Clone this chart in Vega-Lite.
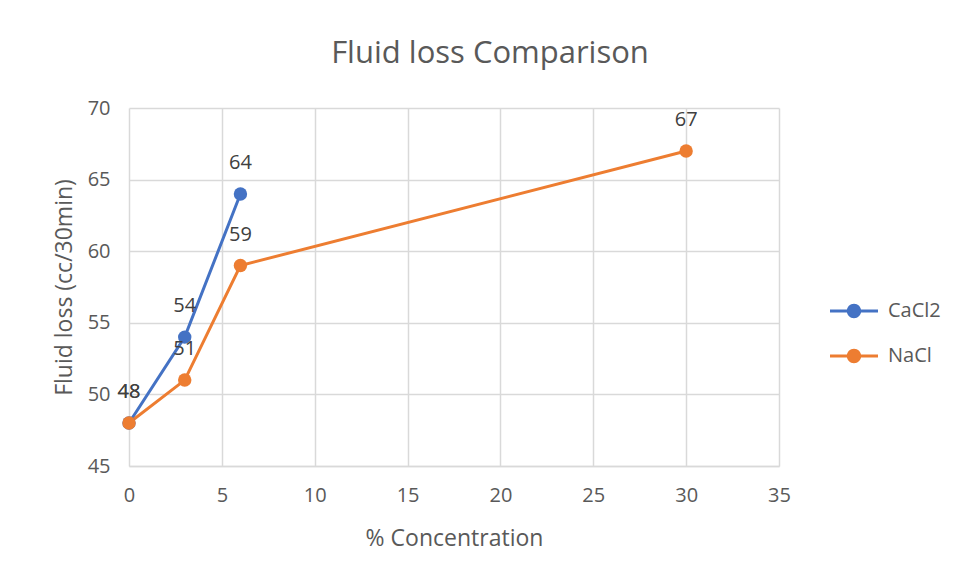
{
  "$schema": "https://vega.github.io/schema/vega-lite/v6.json",
  "autosize": "none",
  "width": 650,
  "height": 358,
  "padding": {"left": 129, "top": 108, "right": 179, "bottom": 117},
  "background": "white",
  "title": {
    "text": "Fluid loss Comparison",
    "fontSize": 31,
    "font": "Open Sans",
    "fontWeight": "normal",
    "color": "#595959",
    "anchor": "middle",
    "frame": "group",
    "dx": 36,
    "baseline": "alphabetic",
    "offset": 4
  },
  "data": {
    "values": [
      {"series": "CaCl2", "conc": 0, "loss": 48},
      {"series": "CaCl2", "conc": 3, "loss": 54},
      {"series": "CaCl2", "conc": 6, "loss": 64},
      {"series": "NaCl", "conc": 0, "loss": 48},
      {"series": "NaCl", "conc": 3, "loss": 51},
      {"series": "NaCl", "conc": 6, "loss": 59},
      {"series": "NaCl", "conc": 30, "loss": 67}
    ]
  },
  "encoding": {
    "x": {
      "field": "conc",
      "type": "quantitative",
      "scale": {"domain": [0, 35], "nice": false, "zero": false},
      "axis": {
        "title": "% Concentration",
        "values": [0, 5, 10, 15, 20, 25, 30, 35],
        "grid": true,
        "gridColor": "#D9D9D9",
        "gridWidth": 1.5,
        "domainColor": "#D9D9D9",
        "domainWidth": 1.5,
        "ticks": false,
        "labelFlush": false,
        "labelPadding": 19,
        "labelFontSize": 20,
        "labelColor": "#595959",
        "labelFont": "Open Sans",
        "titleFont": "Open Sans",
        "titleFontSize": 23,
        "titleFontWeight": "normal",
        "titleColor": "#595959",
        "titlePadding": 22
      }
    },
    "y": {
      "field": "loss",
      "type": "quantitative",
      "scale": {"domain": [45, 70], "nice": false, "zero": false},
      "axis": {
        "title": "Fluid loss (cc/30min)",
        "values": [45, 50, 55, 60, 65, 70],
        "grid": true,
        "gridColor": "#D9D9D9",
        "gridWidth": 1.5,
        "domain": false,
        "ticks": false,
        "labelFlush": false,
        "labelPadding": 19,
        "labelFontSize": 20,
        "labelColor": "#595959",
        "labelFont": "Open Sans",
        "titleFont": "Open Sans",
        "titleFontSize": 23,
        "titleFontWeight": "normal",
        "titleColor": "#595959",
        "titlePadding": 11
      }
    },
    "color": {
      "field": "series",
      "type": "nominal",
      "scale": {"domain": ["CaCl2", "NaCl"], "range": ["#4472C4", "#ED7D31"]},
      "legend": {
        "title": null,
        "orient": "none",
        "legendX": 701,
        "legendY": 179,
        "symbolType": "M-1,-0.06H1V0.06H-1Z M0.3,0A0.3,0.3 0 1,1 -0.3,0A0.3,0.3 0 1,1 0.3,0Z",
        "symbolSize": 2304,
        "symbolStrokeWidth": 0,
        "labelFontSize": 20,
        "labelFont": "Open Sans",
        "labelColor": "#595959",
        "labelOffset": 10,
        "rowPadding": 11,
        "encode": {
          "symbols": {
            "update": {
              "fill": {"scale": "color", "field": "value"},
              "strokeWidth": {"value": 0}
            }
          }
        }
      }
    }
  },
  "layer": [
    {"mark": {"type": "line", "strokeWidth": 3}},
    {"mark": {"type": "point", "filled": true, "size": 180, "opacity": 1}},
    {
      "mark": {
        "type": "text",
        "dy": -31,
        "fontSize": 20,
        "font": "Open Sans",
        "baseline": "middle",
        "align": "center"
      },
      "encoding": {
        "text": {"field": "loss", "type": "quantitative"},
        "color": {"value": "#404040"}
      }
    }
  ],
  "config": {"view": {"stroke": null}}
}
